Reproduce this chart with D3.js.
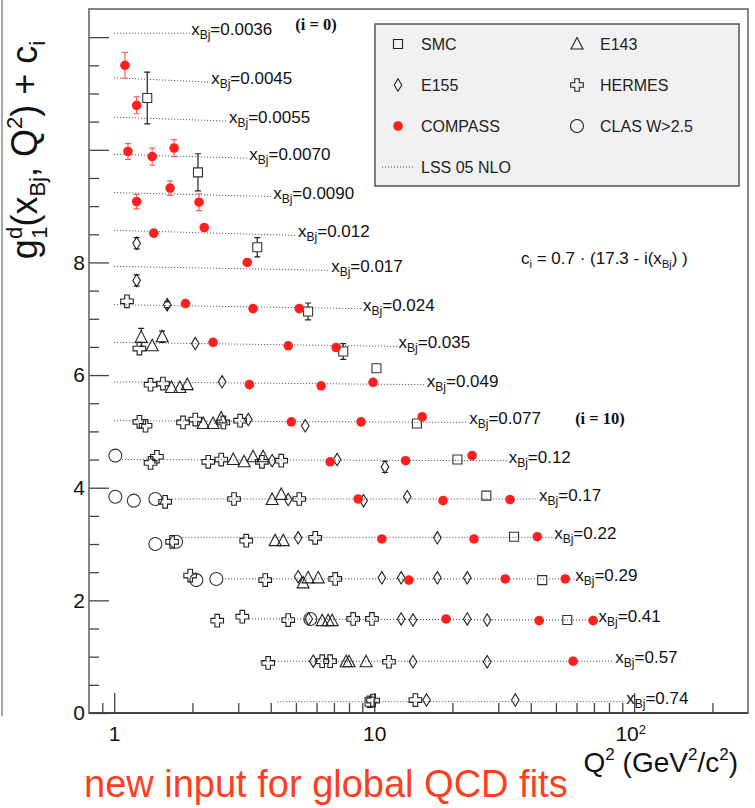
<!DOCTYPE html>
<html>
<head>
<meta charset="utf-8">
<script src="https://cdn.jsdelivr.net/npm/d3@7"></script>
<style>
  body { margin: 0; background: #fff; }
  svg { display: block; font-family: "Liberation Sans", Arial, Helvetica, sans-serif; }
</style>
</head>
<body>
<div id="chart"></div>
<script>
// x_Bj bins, one LSS 05 NLO curve per bin (start / end of each curve)
const xbjLabels = ['0.0036', '0.0045', '0.0055', '0.0070', '0.0090', '0.012', '0.017', '0.024', '0.035',
  '0.049', '0.077', '0.12', '0.17', '0.22', '0.29', '0.41', '0.57', '0.74'];
const lssQ2Min = [1.0, 1.0, 1.0, 1.0, 1.0, 1.0, 1.0, 1.0, 1.0, 1.0, 1.0, 1.07, 1.62, 1.83, 2.6, 3.3, 3.64, 4.24];
const lssQ2Max = [1.96, 2.34, 2.74, 3.28, 4.05, 5.05, 6.77, 8.98, 12.3, 15.8, 23.0, 32.6, 42.7, 48.8, 58.8, 72.3, 83.9, 92.4];
const lssStart = [12.07, 11.28, 10.58, 9.92, 9.24, 8.57, 7.93, 7.25, 6.58, 5.88, 5.19, 4.50, 3.80, 3.12, 2.38, 1.67, 0.92, 0.20];
const lssEnd = [12.07, 11.20, 10.51, 9.85, 9.17, 8.48, 7.86, 7.18, 6.51, 5.83, 5.16, 4.48, 3.80, 3.12, 2.38, 1.65, 0.92, 0.20];

// [Q2, g1 + c_i, error]
const compass = [
  [1.10, 11.50, 0.23], [1.22, 10.79, 0.15], [1.13, 9.97, 0.14], [1.40, 9.88, 0.15], [1.70, 10.03, 0.15],
  [1.22, 9.08, 0.13], [1.64, 9.32, 0.13], [2.12, 9.07, 0.15], [1.42, 8.52, 0], [2.22, 8.62, 0],
  [3.25, 8.00, 0], [1.88, 7.27, 0], [3.42, 7.18, 0], [5.15, 7.18, 0], [2.40, 6.58, 0], [4.67, 6.52, 0],
  [7.14, 6.49, 0], [3.31, 5.83, 0], [6.25, 5.81, 0], [9.9, 5.87, 0], [4.80, 5.17, 0], [8.9, 5.17, 0],
  [15.3, 5.26, 0], [6.77, 4.46, 0], [13.2, 4.48, 0], [23.8, 4.57, 0], [8.68, 3.80, 0], [18.4, 3.77, 0],
  [33.3, 3.79, 0], [10.7, 3.09, 0], [24.2, 3.09, 0], [42.4, 3.13, 0], [13.6, 2.36, 0], [31.9, 2.38, 0],
  [54.3, 2.38, 0], [18.9, 1.67, 0], [43.1, 1.64, 0], [69.5, 1.64, 0], [58.2, 0.92, 0]
];
const smc = [
  [1.34, 10.92, 0.46], [2.10, 9.60, 0.33], [3.55, 8.27, 0.17], [5.57, 7.13, 0.15], [7.60, 6.42, 0.14],
  [10.2, 6.12, 0], [14.6, 5.14, 0], [20.9, 4.50, 0], [27.0, 3.86, 0], [34.5, 3.13, 0], [44.3, 2.36, 0],
  [55.3, 1.65, 0], [9.6, 0.20, 0.1]
];
const e143 = [
  [1.27, 6.67, 0.16], [1.40, 6.52, 0], [1.53, 6.68, 0.1], [1.66, 5.78, 0], [1.79, 5.78, 0], [1.91, 5.83, 0],
  [2.20, 5.14, 0], [2.40, 5.14, 0], [2.58, 5.24, 0], [2.87, 4.50, 0], [3.16, 4.46, 0], [3.42, 4.55, 0],
  [3.74, 4.55, 0], [4.05, 3.79, 0], [4.39, 3.88, 0], [4.16, 3.06, 0], [4.47, 3.06, 0], [5.33, 2.31, 0],
  [5.57, 2.40, 0], [6.09, 2.40, 0], [6.31, 1.64, 0], [6.65, 1.64, 0], [6.89, 1.64, 0], [7.80, 0.91, 0],
  [8.0, 0.91, 0], [9.31, 0.91, 0]
];
const e155 = [
  [1.22, 8.34, 0.1], [1.22, 7.68, 0.1], [1.60, 7.25, 0.05], [2.05, 6.56, 0], [2.60, 5.88, 0], [3.28, 5.21, 0],
  [5.43, 5.10, 0], [4.05, 4.48, 0], [7.2, 4.50, 0], [11.0, 4.37, 0.1], [4.67, 3.79, 0], [9.1, 3.77, 0],
  [13.4, 3.84, 0], [5.10, 3.11, 0], [17.5, 3.11, 0], [5.10, 2.42, 0], [10.7, 2.40, 0], [12.7, 2.40, 0],
  [17.5, 2.40, 0], [22.8, 2.40, 0], [5.6, 1.67, 0], [12.7, 1.67, 0], [14.1, 1.65, 0], [22.8, 1.67, 0],
  [27.2, 1.65, 0], [5.83, 0.92, 0], [14.1, 0.91, 0], [27.2, 0.91, 0], [15.9, 0.23, 0], [34.9, 0.23, 0]
];
const hermes = [
  [1.12, 7.31, 0], [1.25, 6.47, 0], [1.38, 5.83, 0], [1.54, 5.85, 0], [1.25, 5.17, 0], [1.32, 5.10, 0],
  [1.84, 5.16, 0], [2.05, 5.21, 0], [2.63, 5.16, 0], [3.05, 5.19, 0], [1.38, 4.44, 0], [1.46, 4.55, 0],
  [2.30, 4.46, 0], [2.58, 4.50, 0], [3.70, 4.46, 0], [4.39, 4.48, 0], [1.57, 3.75, 0], [2.89, 3.80, 0],
  [5.15, 3.80, 0], [1.67, 3.04, 0], [3.22, 3.06, 0], [5.93, 3.11, 0], [1.96, 2.44, 0], [3.81, 2.36, 0],
  [7.08, 2.38, 0], [2.49, 1.64, 0], [3.11, 1.71, 0], [4.67, 1.65, 0], [8.3, 1.67, 0], [9.8, 1.67, 0],
  [3.91, 0.89, 0], [6.31, 0.92, 0], [6.77, 0.92, 0], [11.4, 0.91, 0], [9.9, 0.22, 0], [14.4, 0.23, 0]
];
const clas = [
  [1.01, 4.57, 0], [1.01, 3.84, 0], [1.19, 3.77, 0], [1.44, 3.80, 0], [1.44, 3.00, 0], [1.73, 3.04, 0],
  [2.07, 2.36, 0], [2.47, 2.38, 0], [5.68, 1.67, 0]
];

const xMajorTicks = [1, 10, 100];
const xMinorTicks = [0.9, 2, 3, 4, 5, 6, 7, 8, 9, 20, 30, 40, 50, 60, 70, 80, 90, 200];
const yMajorTicks = [0, 2, 4, 6, 8, 10, 12];

const width = 755, height = 808;
const frame = {left: 89, right: 748, top: 9, bottom: 713};

const svg = d3.select('#chart').append('svg')
  .attr('width', width)
  .attr('height', height);

const x = d3.scaleLog().domain([0.8, 274]).range([frame.left, frame.right]);
const y = d3.scaleLinear().domain([0, 12.5]).range([frame.bottom, frame.top]);

// marker shapes
const R = 6.5;
const shapes = {
  square: {d: 'M-4.5,-4.5H4.5V4.5H-4.5Z', half: 4.5},
  triangle: {d: 'M0,-6.5L6,5L-6,5Z', half: 6},
  diamond: {d: 'M0,-6.2L3.8,0L0,6.2L-3.8,0Z', half: 6.2},
  cross: {d: (() => { const a = 2.3, L = 6.3;
    return `M${-a},${-L}H${a}V${-a}H${L}V${a}H${a}V${L}H${-a}V${a}H${-L}V${-a}H${-a}Z`; })(), half: 6.3},
  circle: {d: `M${R},0A${R},${R} 0 1,1 ${-R},0A${R},${R} 0 1,1 ${R},0Z`, half: R},
  dot: {d: 'M4.8,0A4.8,4.8 0 1,1 -4.8,0A4.8,4.8 0 1,1 4.8,0Z', half: 4.8}
};

// left edge of the slide
svg.append('line')
  .attr('x1', 2).attr('x2', 2).attr('y1', 0).attr('y2', 716)
  .attr('stroke', '#8a8a8a').attr('stroke-width', 1.5);

// axes (ticks drawn inward)
const xAxisMajor = d3.axisBottom(x).tickValues(xMajorTicks).tickSize(-20).tickSizeOuter(0).tickPadding(13)
  .tickFormat(d => d === 100 ? '10' : d3.format('d')(d));
const xAxisMinor = d3.axisBottom(x).tickValues(xMinorTicks).tickSize(-10).tickSizeOuter(0).tickFormat('');
const yAxisMajor = d3.axisLeft(y).tickValues(yMajorTicks).tickSize(-20).tickSizeOuter(0).tickPadding(4)
  .tickFormat(d => d <= 8 ? d : '');
const yAxisMinor = d3.axisLeft(y).tickValues(d3.range(0, 12.5, 0.5).filter(v => v % 2 !== 0)).tickSize(-10)
  .tickSizeOuter(0).tickFormat('');

const gx = svg.append('g').attr('transform', `translate(0,${frame.bottom})`);
gx.append('g').call(xAxisMajor);
gx.append('g').call(xAxisMinor);
const gy = svg.append('g').attr('transform', `translate(${frame.left},0)`);
gy.append('g').call(yAxisMajor);
gy.append('g').call(yAxisMinor);

svg.selectAll('.domain').remove();
svg.selectAll('.tick line').attr('stroke', '#444').attr('stroke-width', 1.3);
svg.selectAll('.tick text').attr('font-size', 21).attr('fill', '#111')
  .attr('font-family', '"Liberation Sans", Arial, sans-serif');
gx.selectAll('.tick text').each(function(d) {
  if (d === 100) {
    d3.select(this).attr('dx', '-4')
      .append('tspan').attr('dy', '-0.55em').attr('font-size', 13).text('2');
  }
});

// frame
svg.append('rect')
  .attr('x', frame.left).attr('y', frame.top)
  .attr('width', frame.right - frame.left).attr('height', frame.bottom - frame.top)
  .attr('fill', 'none').attr('stroke', '#666').attr('stroke-width', 1.6);
svg.append('line')
  .attr('x1', frame.left).attr('x2', frame.right).attr('y1', frame.bottom).attr('y2', frame.bottom)
  .attr('stroke', '#444').attr('stroke-width', 2.2);

// LSS 05 NLO curves + x_Bj labels
const lss = xbjLabels.map((lab, i) => ({
  lab, pts: [[lssQ2Min[i], lssStart[i]], [lssQ2Max[i], lssEnd[i]]]
}));
const line = d3.line().x(d => x(d[0])).y(d => y(d[1]));
const gl = svg.append('g');
gl.selectAll('path').data(lss).join('path')
  .attr('d', d => line(d.pts))
  .attr('fill', 'none').attr('stroke', '#444').attr('stroke-width', 1)
  .attr('stroke-dasharray', '1,2');
const labels = gl.selectAll('text').data(lss).join('text')
  .attr('x', d => x(d.pts[1][0]) + 1)
  .attr('y', d => y(d.pts[1][1]) + 2)
  .attr('font-size', 17).attr('fill', '#111');
labels.append('tspan').text('x');
labels.append('tspan').attr('font-size', 12).attr('dy', 4).text('Bj');
labels.append('tspan').attr('dy', -4).text(d => '=' + d.lab);

// data points
function drawSet(data, shape, opts) {
  const g = svg.append('g');
  const s = shapes[shape];
  const errs = data.filter(d => d[2] > 0);
  const ec = opts.errColor || '#222';
  g.selectAll('.eb').data(errs).join('path')
    .attr('d', d => {
      const cx = x(d[0]), cy = y(d[1]), t = y(d[1] + d[2]), b = y(d[1] - d[2]);
      return `M${cx},${t}V${cy - s.half}M${cx},${cy + s.half}V${b}M${cx - 3},${t}H${cx + 3}M${cx - 3},${b}H${cx + 3}`;
    })
    .attr('fill', 'none').attr('stroke', ec).attr('stroke-width', 1.2);
  g.selectAll('.pt').data(data).join('path')
    .attr('d', s.d)
    .attr('transform', d => `translate(${x(d[0])},${y(d[1])})`)
    .attr('fill', opts.fill || 'none')
    .attr('stroke', opts.stroke || '#222')
    .attr('stroke-width', opts.strokeWidth || 1.1);
}

drawSet(clas, 'circle', {stroke: '#333'});
drawSet(hermes, 'cross', {stroke: '#222'});
drawSet(e143, 'triangle', {stroke: '#222'});
drawSet(e155, 'diamond', {stroke: '#222'});
drawSet(smc, 'square', {stroke: '#333'});
drawSet(compass, 'dot', {fill: '#ff1f1f', stroke: 'none', errColor: '#ff5a5a'});

// legend
const legendItems = [
  {name: 'SMC', shape: 'square', col: 0, row: 0},
  {name: 'E143', shape: 'triangle', col: 1, row: 0},
  {name: 'E155', shape: 'diamond', col: 0, row: 1},
  {name: 'HERMES', shape: 'cross', col: 1, row: 1},
  {name: 'COMPASS', shape: 'dot', col: 0, row: 2},
  {name: 'CLAS W>2.5', shape: 'circle', col: 1, row: 2},
  {name: 'LSS 05 NLO', shape: 'line', col: 0, row: 3}
];
const lg = svg.append('g');
lg.append('rect')
  .attr('x', 375).attr('y', 24).attr('width', 364).attr('height', 162)
  .attr('fill', '#f1f1f1').attr('stroke', '#555').attr('stroke-width', 1.5);
const li = lg.selectAll('g.item').data(legendItems).join('g')
  .attr('transform', d => `translate(${398 + d.col * 179},${44 + d.row * 41})`);
li.each(function(d) {
  const g = d3.select(this);
  if (d.shape === 'line') {
    g.append('line').attr('x1', -16).attr('x2', 15).attr('y1', 0).attr('y2', 0)
      .attr('stroke', '#444').attr('stroke-dasharray', '1,2');
  } else {
    g.append('path').attr('d', shapes[d.shape].d)
      .attr('fill', d.shape === 'dot' ? '#ff1f1f' : 'none')
      .attr('stroke', d.shape === 'dot' ? 'none' : '#222').attr('stroke-width', 1.1);
  }
  g.append('text').attr('x', 23).attr('y', 6).attr('font-size', 16).attr('fill', '#222').text(d.name);
});

// annotations
const ci = svg.append('text').attr('x', 521).attr('y', 264).attr('font-size', 17).attr('fill', '#111');
ci.append('tspan').text('c');
ci.append('tspan').attr('font-size', 11).attr('dy', 4).text('i');
ci.append('tspan').attr('dy', -4).text(' = 0.7 · (17.3 - i(x');
ci.append('tspan').attr('font-size', 11).attr('dy', 4).text('Bj');
ci.append('tspan').attr('dy', -4).text(') )');

svg.append('text').attr('x', 316).attr('y', 30).attr('text-anchor', 'middle')
  .attr('font-family', '"Liberation Serif", "Times New Roman", serif').attr('font-weight', 'bold')
  .attr('font-size', 16.5).attr('fill', '#111').text('(i = 0)');
svg.append('text').attr('x', 600).attr('y', 424).attr('text-anchor', 'middle')
  .attr('font-family', '"Liberation Serif", "Times New Roman", serif').attr('font-weight', 'bold')
  .attr('font-size', 16.5).attr('fill', '#111').text('(i = 10)');

// y title
const yt = svg.append('text')
  .attr('transform', 'translate(37,150) rotate(-90)')
  .attr('text-anchor', 'middle').attr('font-size', 36).attr('fill', '#111');
yt.append('tspan').text('g');
yt.append('tspan').attr('font-size', 22).attr('dy', -15).text('d');
yt.append('tspan').attr('font-size', 22).attr('dx', -12).attr('dy', 25).text('1');
yt.append('tspan').attr('dy', -10).text('(x');
yt.append('tspan').attr('font-size', 22).attr('dy', 8).text('Bj');
yt.append('tspan').attr('dy', -8).text(', Q');
yt.append('tspan').attr('font-size', 22).attr('dy', -15).text('2');
yt.append('tspan').attr('dy', 15).text(') + c');
yt.append('tspan').attr('font-size', 22).attr('dy', 8).text('i');

// x title
const xt = svg.append('text').attr('x', 738).attr('y', 772).attr('text-anchor', 'end')
  .attr('font-size', 28).attr('fill', '#111');
xt.append('tspan').text('Q');
xt.append('tspan').attr('font-size', 17).attr('dy', -12).text('2');
xt.append('tspan').attr('dy', 12).text(' (GeV');
xt.append('tspan').attr('font-size', 17).attr('dy', -12).text('2');
xt.append('tspan').attr('dy', 12).text('/c');
xt.append('tspan').attr('font-size', 17).attr('dy', -12).text('2');
xt.append('tspan').attr('dy', 12).text(')');

// slide caption
svg.append('text').attr('x', 84).attr('y', 797)
  .attr('font-size', 38).attr('fill', '#ff3d1f').text('new input for global QCD fits');
</script>
</body>
</html>
